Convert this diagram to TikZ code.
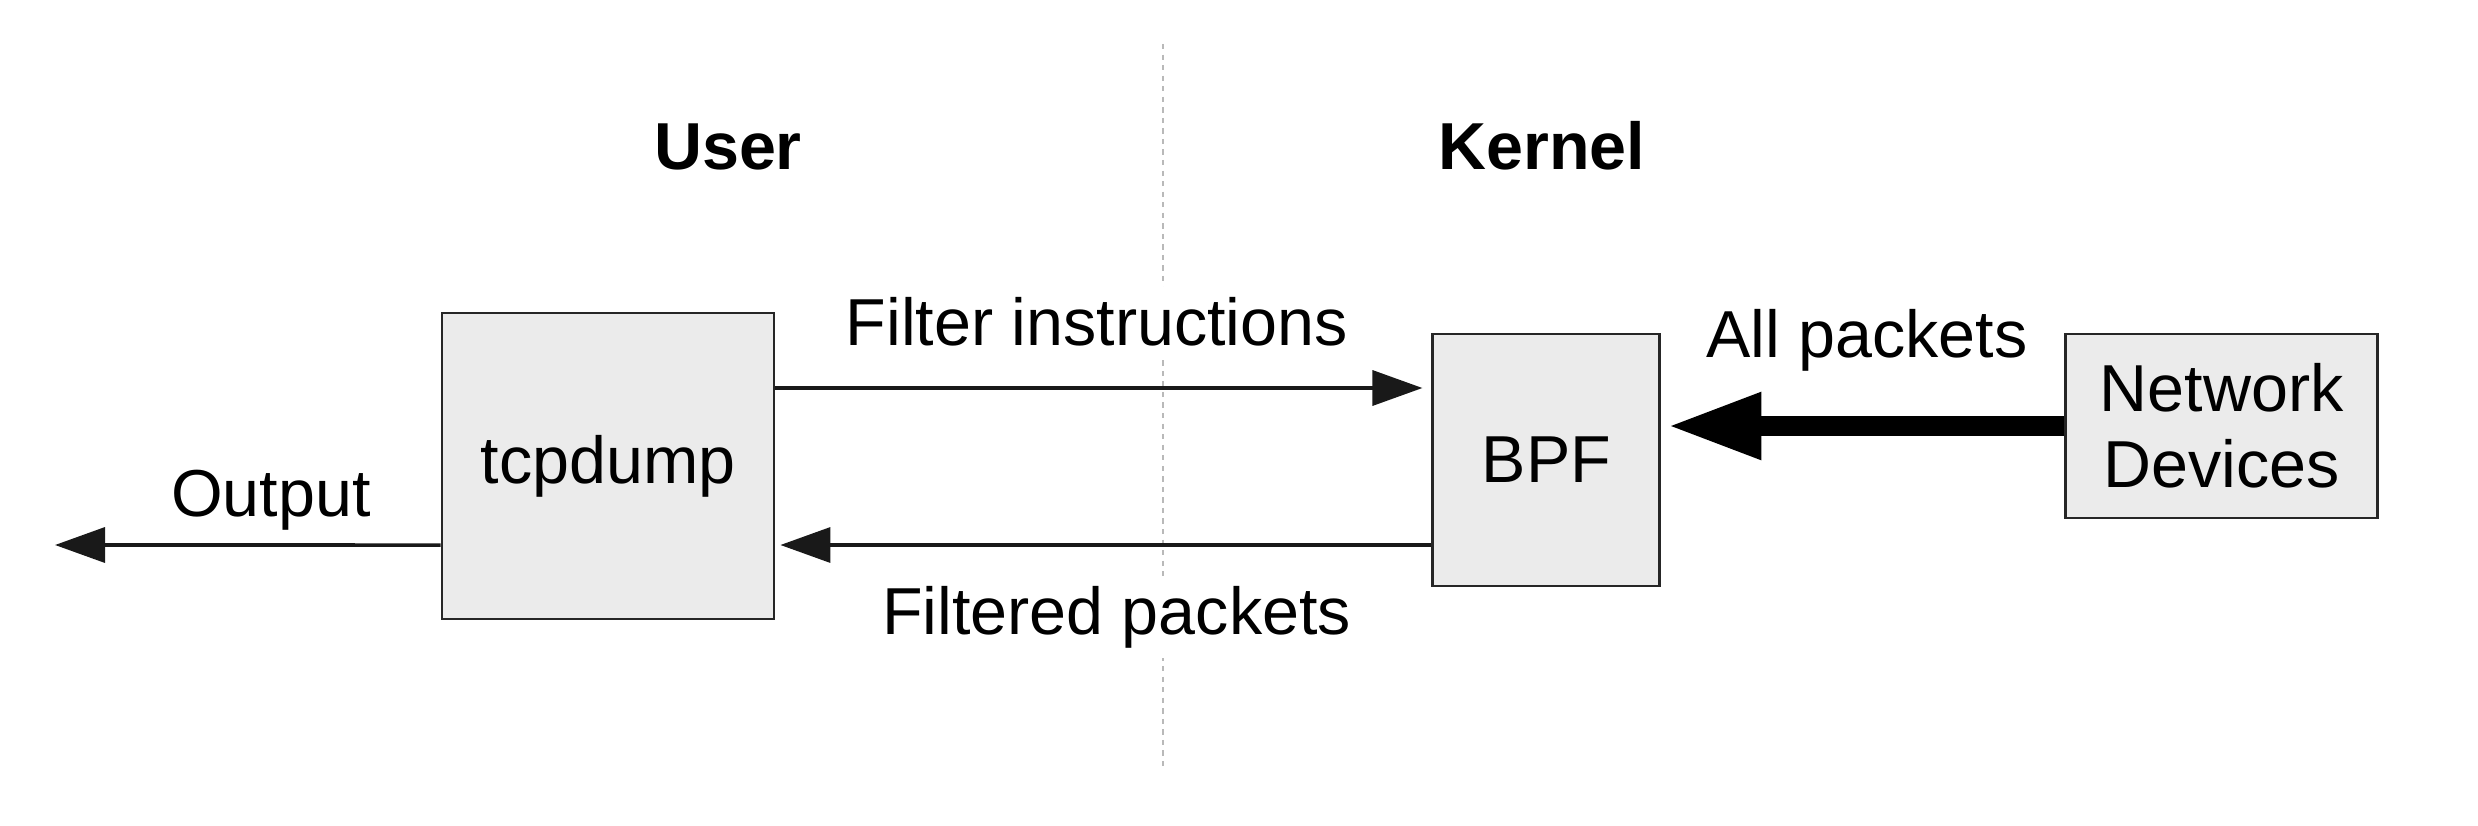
\documentclass[tikz,border=0pt]{standalone}
\usepackage{fontspec}
\setmainfont{Liberation Sans}
\usepackage{xcolor}
\usepackage{tikz}
\usetikzlibrary{arrows.meta,positioning}

\begin{document}
\begin{tikzpicture}[
  node distance=9mm and 13mm,
  font=\fontsize{18.9pt}{21.6pt}\selectfont,
  block/.style={draw=black!85,thick,fill=black!8,align=center,inner sep=0pt},
  heading/.style={font=\fontsize{18.9pt}{21.6pt}\selectfont\bfseries,anchor=base},
  lbl/.style={inner sep=1mm,anchor=base},
  cutlbl/.style={lbl,fill=white},
  divider/.style={draw=gray!55,line width=0.6pt,dash pattern=on 1.5pt off 1.5pt},
  arr/.style={-{Triangle[length=5mm,width=3.5mm]},line width=1pt,draw=black!90},
  fatarr/.style={-{Triangle[length=9.4mm,width=6.2mm]},line width=2mm}]
\useasboundingbox (0,0) rectangle (24.78,-8.26);
% user / kernel split
\coordinate (divtop) at (11.63,-0.44);
\coordinate (divbot) at (11.63,-7.71);
\draw[divider] (divtop) -- (divbot);
\node[heading] (user) at (7.28,-1.70) {User};
\node[heading] (kernel) at (15.42,-1.70) {Kernel};
% boxes
\node[block,minimum width=3.32cm,minimum height=3.06cm] (tcpdump) at (6.08,-4.66) {tcpdump};
\node[block,minimum width=2.27cm,minimum height=2.52cm,right=6.56cm of tcpdump,yshift=0.6mm] (bpf) {BPF};
\node[block,minimum width=3.12cm,minimum height=1.84cm,right=4.03cm of bpf,yshift=3.4mm] (net) {Network\\Devices};
\coordinate (outp) at (0.55,-5.45);
% arrows
\draw[arr,shorten >=0.9mm] ([yshift=7.8mm]tcpdump.east) --
  node[cutlbl,pos=0.49,yshift=4.3mm] (filtlbl) {Filter instructions}
  ([yshift=7.8mm]tcpdump.east -| bpf.west);
\draw[arr,shorten >=0.5mm] ([yshift=-7.9mm]tcpdump.east -| bpf.west) --
  node[cutlbl,pos=0.48,yshift=-8.9mm] (pktlbl) {Filtered packets}
  ([yshift=-7.9mm]tcpdump.east);
\draw[arr] ([yshift=-7.9mm]tcpdump.west) --
  node[lbl,pos=0.44,yshift=2.9mm] (outlbl) {Output} (outp);
\draw[fatarr,shorten >=0.6mm] (net.west) --
  node[lbl,pos=0.49,yshift=6.9mm] (alllbl) {All packets} (net.west -| bpf.east);
\end{tikzpicture}
\end{document}
